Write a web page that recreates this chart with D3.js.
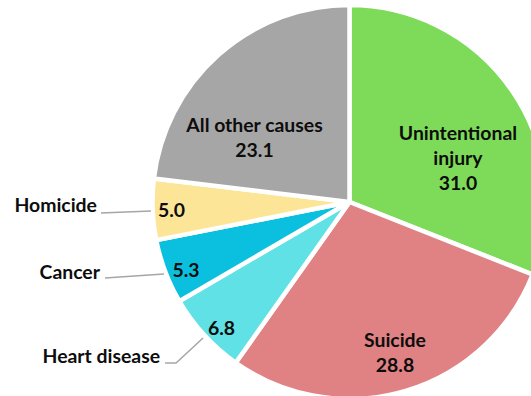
<!DOCTYPE html>
<html>
<head>
<meta charset="utf-8">
<script src="https://cdn.jsdelivr.net/npm/d3@7"></script>
<style>
  html, body { margin: 0; padding: 0; background: #fff; }
  svg { display: block; }
  text { font-family: Lato, "Open Sans", sans-serif; font-weight: 700; fill: #0d0d0d; }
</style>
</head>
<body>
<svg id="chart" width="531" height="396"></svg>
<script>
// Leading causes of death, share of total (%)
const causes = ["Unintentional injury", "Suicide", "Heart disease", "Cancer", "Homicide", "All other causes"];
const shares = [31.0, 28.8, 6.8, 5.3, 5.0, 23.1];
const colors = ["#7edb5a", "#e08283", "#60e1e6", "#0bc0df", "#fde597", "#a6a6a6"];

const W = 531, H = 396;
const cx = 349.5, cy = 202, R = 197;

const svg = d3.select("#chart");
const g = svg.append("g").attr("transform", `translate(${cx},${cy})`);

const pie = d3.pie().sort(null).value(d => d.value);
const arc = d3.arc().innerRadius(0).outerRadius(R);

const data = causes.map((c, i) => ({ cause: c, value: shares[i], color: colors[i] }));
const arcs = pie(data);

g.selectAll("path.slice")
  .data(arcs)
  .join("path")
  .attr("class", "slice")
  .attr("d", arc)
  .attr("fill", d => d.data.color)
  .attr("stroke", "#fff")
  .attr("stroke-width", 4.5)
  .attr("stroke-linejoin", "miter");

// Label placement, offset from each slice centroid
const labelOffset = {
  "Unintentional injury": [27, -6.6],
  "Suicide": [17.4, 50.3],
  "Heart disease": [-55.3, 66.5],
  "Cancer": [-71.4, 40.2],
  "Homicide": [-79.6, 11],
  "All other causes": [-29.6, 3.4]
};
// Names drawn inside the slice, split over lines
const insideLines = {
  "Unintentional injury": ["Unintentional", "injury"],
  "Suicide": ["Suicide"],
  "All other causes": ["All other causes"]
};
// Outside callouts: leader polyline and name anchor, relative to the value label
const callouts = {
  "Homicide": { line: [[-70.5, -3.7], [-20.5, -5.7]], name: [-74.5, -4.7] },
  "Cancer": { line: [[-81, 1], [-22, -3]], name: [-86, 2] },
  "Heart disease": { line: [[-56.5, 28], [-45.5, 28], [-18.5, 3]], name: [-61.5, 28] }
};

const fontSize = 19.4, lineH = 25;
const labels = svg.append("g");

arcs.forEach(d => {
  const [mx, my] = arc.centroid(d);
  const off = labelOffset[d.data.cause];
  const x = cx + mx + off[0], y = cy + my + off[1];
  const lines = (insideLines[d.data.cause] || []).concat([d.data.value.toFixed(1)]);
  const t = labels.append("text")
    .attr("text-anchor", "middle")
    .attr("font-size", fontSize);
  lines.forEach((s, i) => {
    t.append("tspan").attr("x", x).attr("y", y + i * lineH).text(s);
  });

  const co = callouts[d.data.cause];
  if (co) {
    const pts = co.line.map(p => [x + p[0], y + p[1]]);
    labels.append("path")
      .attr("d", d3.line()(pts))
      .attr("fill", "none")
      .attr("stroke", "#a6a6a6")
      .attr("stroke-width", 1.5);
    labels.append("text")
      .attr("text-anchor", "end")
      .attr("font-size", fontSize)
      .attr("x", x + co.name[0])
      .attr("y", y + co.name[1])
      .text(d.data.cause);
  }
});
</script>
</body>
</html>
